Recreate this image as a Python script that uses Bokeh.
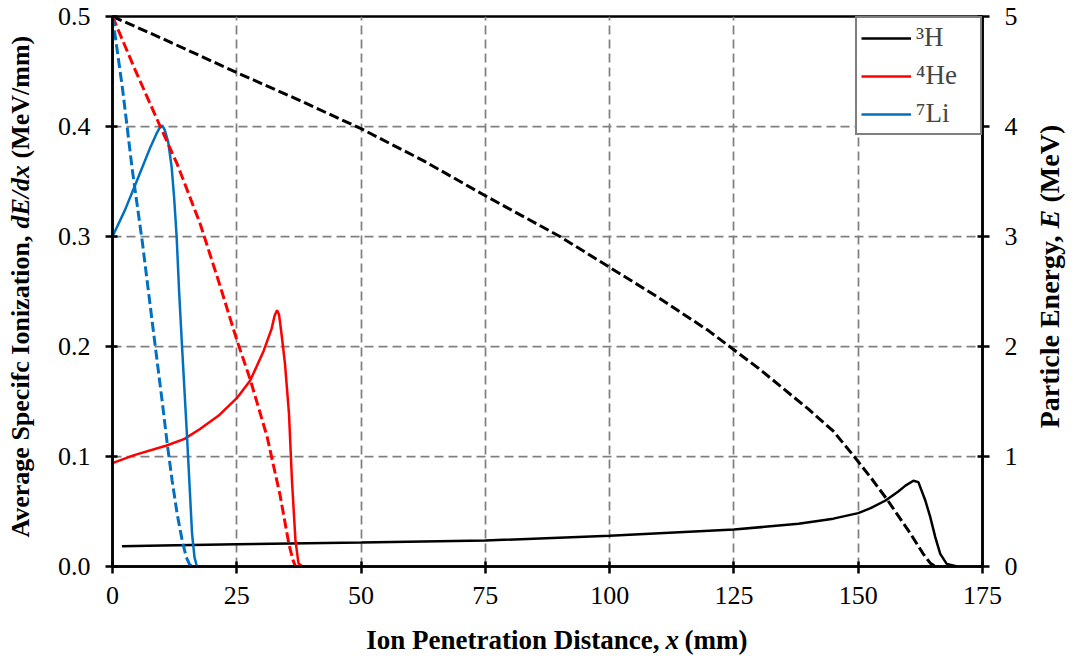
import math
from bokeh.plotting import figure
from bokeh.layouts import row, column
from bokeh.models import (Range1d, LinearAxis, FixedTicker, PrintfTickFormatter,
                          Legend, LegendItem, Label)
from bokeh.embed import file_html
from bokeh.resources import INLINE

# ---------------- data ----------------
x_ticks = [0, 25, 50, 75, 100, 125, 150, 175]
dedx_ticks = [0.0, 0.1, 0.2, 0.3, 0.4, 0.5]
energy_ticks = [0, 1, 2, 3, 4, 5]

# axis titles split into (text, style) pieces
x_title = [("Ion Penetration Distance,", "bold"), ("x", "bold italic"), ("(mm)", "bold")]
left_title = [("Average Specifc Ionization,", "bold"), ("dE/dx", "bold italic"),
              ("(MeV/mm)", "bold")]
right_title = [("Particle Energy,", "bold"), ("E", "bold italic"), ("(MeV)", "bold")]

# 3H : specific ionization (solid) and particle energy (dashed)
h3_x = [1.9, 10, 25, 50, 75, 100, 125, 138, 145, 150, 152.5, 155.5, 158, 159.5,
        161.1, 162.1, 163.5, 164.5, 165.5, 166.5, 167.8, 169.9]
h3_dedx = [0.0185, 0.0192, 0.0203, 0.0218, 0.0236, 0.0279, 0.0336, 0.0388, 0.0435,
           0.0485, 0.0530, 0.0600, 0.0680, 0.0735, 0.0780, 0.0767, 0.0600, 0.0448,
           0.0267, 0.0115, 0.0024, 0.0]
h3_ex = [0, 10, 25, 37.5, 50, 62.5, 75, 90, 100, 110, 120, 130, 140, 145, 149,
         152.5, 155.8, 160.5, 163, 164.5, 165.5]
h3_e = [5.0, 4.80, 4.49, 4.24, 3.98, 3.69, 3.37, 3.0, 2.72, 2.44, 2.14, 1.80, 1.43,
        1.23, 1.01, 0.81, 0.61, 0.30, 0.12, 0.03, 0.0]

# 4He
he_x = [0, 4.2, 10.9, 14.5, 17.6, 21.3, 25, 27.7, 30.4, 32.0, 32.6, 33.1, 33.5,
        33.9, 34.3, 34.7, 35.5, 36.1, 36.8, 37.4, 38.2]
he_dedx = [0.094, 0.101, 0.110, 0.116, 0.125, 0.137, 0.153, 0.169, 0.196, 0.216,
           0.228, 0.233, 0.229, 0.215, 0.200, 0.184, 0.139, 0.078, 0.024, 0.003, 0.0]
he_ex = [0, 4.6, 9.6, 13.0, 17.6, 21.3, 25, 27.7, 31.1, 33.7, 35.5, 36.3, 36.8]
he_e = [5.0, 4.51, 4.0, 3.66, 3.12, 2.6, 2.06, 1.70, 1.18, 0.65, 0.2, 0.06, 0.0]

# 7Li
li_x = [0, 2.5, 4.4, 6.0, 7.6, 8.8, 9.5, 10.0, 10.5, 11.2, 11.9, 12.4, 12.9, 13.4,
        14.0, 15.0, 16.0, 16.5, 17.0]
li_dedx = [0.300, 0.324, 0.345, 0.363, 0.381, 0.393, 0.399, 0.401, 0.397, 0.386,
           0.363, 0.335, 0.300, 0.250, 0.199, 0.1175, 0.030, 0.008, 0.0]
li_ex = [0, 2.0, 4.0, 6.0, 8.0, 10.0, 11.0, 12.0, 13.0, 14.0, 14.8, 15.5, 16.0]
li_e = [5.0, 4.35, 3.6, 2.95, 2.22, 1.5, 1.12, 0.78, 0.48, 0.24, 0.09, 0.02, 0.0]

legend_labels = ["³H", "⁴He", "⁷Li"]
colors = ["#000000", "#FF0000", "#0070C0"]

# ---------------- layout sizes (page pixels) ----------------
SERIF = "Liberation Serif"
W, H = 1079, 659
LEFT_W, RIGHT_W, BOTTOM_H = 40, 49, 39
MAIN_W, MAIN_H = W - LEFT_W - RIGHT_W, H - BOTTOM_H
F_LEFT, F_RIGHT, F_TOP, F_BOTTOM = 112, 982, 16, 566   # plot frame on the page

# ---------------- main plot ----------------
p = figure(width=MAIN_W, height=MAIN_H, x_range=Range1d(0, 175), y_range=Range1d(0, 0.5),
           output_backend="svg", toolbar_location=None, title=None,
           min_border_left=F_LEFT - LEFT_W, min_border_right=LEFT_W + MAIN_W - F_RIGHT,
           min_border_top=F_TOP, min_border_bottom=MAIN_H - F_BOTTOM)
p.extra_y_ranges = {"E": Range1d(0, 5)}
p.background_fill_color = "white"
p.border_fill_color = "white"
p.outline_line_color = "black"
p.outline_line_width = 2.5

def style_axis(ax, standoff):
    ax.axis_line_color = "black"
    ax.axis_line_width = 2.5
    ax.major_tick_line_color = "black"
    ax.major_tick_line_width = 2.5
    ax.major_tick_in = 5
    ax.major_tick_out = 7
    ax.minor_tick_line_color = None
    ax.major_label_text_font = SERIF
    ax.major_label_text_font_size = "26px"
    ax.major_label_text_color = "black"
    ax.major_label_standoff = standoff

xa = p.xaxis[0]
xa.ticker = FixedTicker(ticks=x_ticks)
style_axis(xa, 13)
ya = p.yaxis[0]
ya.ticker = FixedTicker(ticks=dedx_ticks)
ya.formatter = PrintfTickFormatter(format="%.1f")
style_axis(ya, 15)
ra = LinearAxis(y_range_name="E", ticker=FixedTicker(ticks=energy_ticks))
style_axis(ra, 15)
p.add_layout(ra, "right")

for g in (p.xgrid[0], p.ygrid[0]):
    g.grid_line_color = "#808080"
    g.grid_line_width = 1.75
    g.grid_line_dash = "9 5"

r_h = p.line(h3_x, h3_dedx, line_color=colors[0], line_width=2.5)
r_he = p.line(he_x, he_dedx, line_color=colors[1], line_width=2.5)
r_li = p.line(li_x, li_dedx, line_color=colors[2], line_width=2.5)
p.line(h3_ex, h3_e, y_range_name="E", line_color=colors[0], line_width=3, line_dash="10 4")
p.line(he_ex, he_e, y_range_name="E", line_color=colors[1], line_width=3, line_dash="10 4")
p.line(li_ex, li_e, y_range_name="E", line_color=colors[2], line_width=3, line_dash="10 4")

legend = Legend(items=[LegendItem(label=legend_labels[0], renderers=[r_h]),
                       LegendItem(label=legend_labels[1], renderers=[r_he]),
                       LegendItem(label=legend_labels[2], renderers=[r_li])],
                location="top_right", margin=0, padding=4, spacing=7,
                glyph_width=50, glyph_height=30, label_height=30, label_width=60,
                label_standoff=5, label_text_font=SERIF, label_text_font_size="27px",
                border_line_color="black", border_line_width=2,
                background_fill_color="white", background_fill_alpha=1.0)
p.add_layout(legend)

# ---------------- title strips (labels sit inside each strip's frame) ----------------
def strip(w, h, top=0, bottom=0):
    s = figure(width=w, height=h, x_range=Range1d(0, 1), y_range=Range1d(0, 1),
               x_axis_location=None, y_axis_location=None, toolbar_location=None,
               output_backend="svg", title=None, min_border_left=0, min_border_right=0,
               min_border_top=top, min_border_bottom=bottom)
    s.outline_line_color = None
    s.background_fill_color = "white"
    s.border_fill_color = "white"
    s.xgrid.visible = False
    s.ygrid.visible = False
    return s

def put(s, piece, x, y, align, size, angle=0.0):
    text, style = piece
    s.add_layout(Label(x=x, y=y, x_units="screen", y_units="screen", text=text,
                       text_align=align, text_baseline="middle", angle=angle,
                       text_font=SERIF, text_font_style=style, text_font_size=size,
                       text_color="black"))

A = math.pi / 2
# bottom strip (page y 620..659): text middle at page y 639
bs = strip(W, BOTTOM_H)
ym = H - 639
put(bs, x_title[0], 659, ym, "right", "27px")
put(bs, x_title[1], 665, ym, "left", "27px")
put(bs, x_title[2], 684, ym, "left", "27px")

# side strips share the main frame's top/bottom (page y 16..566)
ls = strip(LEFT_W, MAIN_H, F_TOP, MAIN_H - F_BOTTOM)
xm = 20
put(ls, left_title[0], xm, F_BOTTOM - 235, "right", "26px", A)
put(ls, left_title[1], xm, F_BOTTOM - 228, "left", "26px", A)
put(ls, left_title[2], xm, F_BOTTOM - 158, "left", "26px", A)

rs = strip(RIGHT_W, MAIN_H, F_TOP, MAIN_H - F_BOTTOM)
xr = 1049 - (LEFT_W + MAIN_W)
put(rs, right_title[0], xr, F_BOTTOM - 235, "right", "28px", A)
put(rs, right_title[1], xr, F_BOTTOM - 228, "left", "28px", A)
put(rs, right_title[2], xr, F_BOTTOM - 202, "left", "28px", A)

layout = column(row(ls, p, rs, spacing=0), bs, spacing=0)
open("out.html", "w").write(file_html(layout, INLINE))
